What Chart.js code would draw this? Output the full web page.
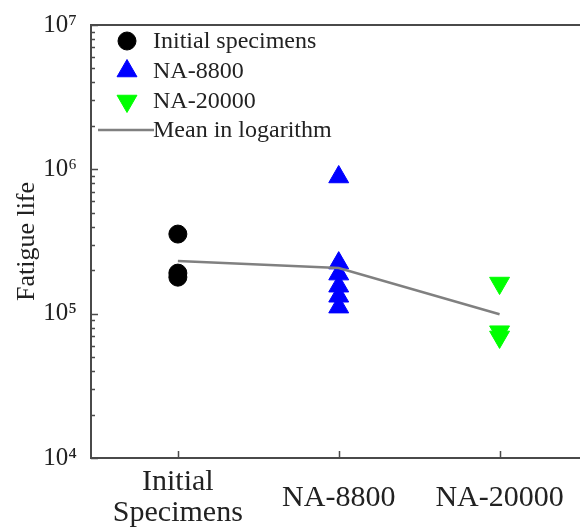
<!DOCTYPE html>
<html>
<head>
<meta charset="utf-8">
<script src="https://cdn.jsdelivr.net/npm/chart.js@4"></script>
<style>
  html, body { margin: 0; padding: 0; background: #fff; }
  #wrap { width: 580px; height: 530px; }
</style>
</head>
<body>
<div id="wrap"><canvas id="chart"></canvas></div>
<script>
// data
const categories = [['Initial', 'Specimens'], 'NA-8800', 'NA-20000'];
const initialLife = [356000, 191000, 179000];
const na8800Life = [885000, 224000, 188000, 155000, 132000, 111000];
const na20000Life = [163000, 75000, 69000];
const meanLogLife = [232000, 207000, 99000];
const yDecades = [1e4, 1e5, 1e6, 1e7];
const yDecadeLabels = ['10\u2074', '10\u2075', '10\u2076', '10\u2077'];
const yMinorSteps = [1, 2, 3, 4, 5, 6, 7, 8, 9];

const FONT = "'Liberation Serif', 'Times New Roman', serif";
const AXIS = '#4a4a4a';

const toPoints = (vals, idx) => vals.map(v => ({ x: idx, y: v }));

// frame + inward ticks
const frameTicks = {
  id: 'frameTicks',
  afterDatasetsDraw(chart) {
    const { ctx, chartArea: a, scales } = chart;
    ctx.save();
    ctx.strokeStyle = AXIS;
    ctx.lineWidth = 2;
    ctx.beginPath();
    ctx.moveTo(chart.width, a.top);
    ctx.lineTo(a.left, a.top);
    ctx.lineTo(a.left, a.bottom);
    ctx.lineTo(chart.width, a.bottom);
    ctx.stroke();

    ctx.lineWidth = 1.5;
    ctx.beginPath();
    scales.y.ticks.forEach(t => {
      const y = Math.round(scales.y.getPixelForValue(t.value)) + 0.5;
      const len = yDecades.includes(t.value) ? 7 : 4;
      ctx.moveTo(a.left, y);
      ctx.lineTo(a.left + len, y);
    });
    scales.x.ticks.forEach(t => {
      const x = Math.round(scales.x.getPixelForValue(t.value)) + 0.5;
      ctx.moveTo(x, a.bottom);
      ctx.lineTo(x, a.bottom - 7);
    });
    ctx.stroke();
    ctx.restore();
  }
};

// legend inside the plot, top-left
const innerLegend = {
  id: 'innerLegend',
  afterDraw(chart) {
    const { ctx } = chart;
    const sets = chart.data.datasets;
    const rows = [41, 71, 101, 130];
    ctx.save();
    ctx.font = '24px ' + FONT;
    ctx.textBaseline = 'middle';
    sets.forEach((ds, i) => {
      const y = rows[i];
      if (ds.type === 'line') {
        ctx.strokeStyle = ds.borderColor;
        ctx.lineWidth = ds.borderWidth;
        ctx.beginPath();
        ctx.moveTo(98, y);
        ctx.lineTo(154, y);
        ctx.stroke();
      } else {
        ctx.fillStyle = ds.backgroundColor;
        ctx.strokeStyle = ds.borderColor;
        ctx.lineWidth = 1;
        Chart.helpers.drawPoint(ctx, {
          pointStyle: ds.pointStyle,
          radius: ds.pointRadius,
          rotation: ds.rotation || 0,
          borderWidth: 1
        }, 127, y);
      }
      ctx.fillStyle = '#222';
      ctx.fillText(ds.label, 153, y + 1);
    });
    ctx.restore();
  }
};

new Chart(document.getElementById('chart'), {
  type: 'scatter',
  data: {
    datasets: [
      {
        label: 'Initial specimens',
        data: toPoints(initialLife, 0),
        pointStyle: 'circle',
        pointRadius: 9,
        backgroundColor: '#000000',
        borderColor: '#000000',
        order: 1
      },
      {
        label: 'NA-8800',
        data: toPoints(na8800Life, 1),
        pointStyle: 'triangle',
        pointRadius: 11.5,
        backgroundColor: '#0000ff',
        borderColor: '#0000ff',
        order: 1
      },
      {
        label: 'NA-20000',
        data: toPoints(na20000Life, 2),
        pointStyle: 'triangle',
        rotation: 180,
        pointRadius: 11.5,
        backgroundColor: '#00ff00',
        borderColor: '#00ff00',
        order: 1
      },
      {
        type: 'line',
        label: 'Mean in logarithm',
        data: meanLogLife.map((v, i) => ({ x: i, y: v })),
        borderColor: '#808080',
        borderWidth: 2.5,
        pointRadius: 0,
        fill: false,
        order: 0
      }
    ]
  },
  options: {
    responsive: true,
    maintainAspectRatio: false,
    animation: false,
    layout: { autoPadding: false, padding: { top: 25, right: 0, left: 0, bottom: 0 } },
    plugins: {
      legend: { display: false },
      tooltip: { enabled: false }
    },
    scales: {
      x: {
        type: 'linear',
        min: -0.54,
        max: 2.5,
        grid: { display: false },
        border: { display: false },
        afterBuildTicks: (s) => { s.ticks = categories.map((c, i) => ({ value: i })); },
        afterFit: (s) => { s.height = 72; s.paddingLeft = 0; s.paddingRight = 0; },
        ticks: {
          autoSkip: false,
          maxRotation: 0,
          crossAlign: 'center',
          padding: 16,
          color: '#222',
          font: { family: FONT, size: 30, lineHeight: 1.05 },
          callback: (v) => categories[v]
        }
      },
      y: {
        type: 'logarithmic',
        min: 1e4,
        max: 1e7,
        grid: { display: false },
        border: { display: false },
        afterBuildTicks: (s) => {
          const t = [];
          yDecades.forEach((d, i) => {
            if (i < yDecades.length - 1) yMinorSteps.forEach(m => t.push({ value: d * m }));
            else t.push({ value: d });
          });
          s.ticks = t;
        },
        afterFit: (s) => { s.width = 91; s.paddingTop = 0; s.paddingBottom = 0; },
        title: {
          display: true,
          text: 'Fatigue life',
          color: '#222',
          padding: { top: 12, bottom: 0 },
          font: { family: FONT, size: 26 }
        },
        ticks: {
          autoSkip: false,
          padding: 6,
          color: '#222',
          font: { family: FONT, size: 25 },
          callback: (v) => {
            const i = yDecades.indexOf(v);
            return i >= 0 ? yDecadeLabels[i] : '';
          }
        }
      }
    }
  },
  plugins: [frameTicks, innerLegend]
});
</script>
</body>
</html>
